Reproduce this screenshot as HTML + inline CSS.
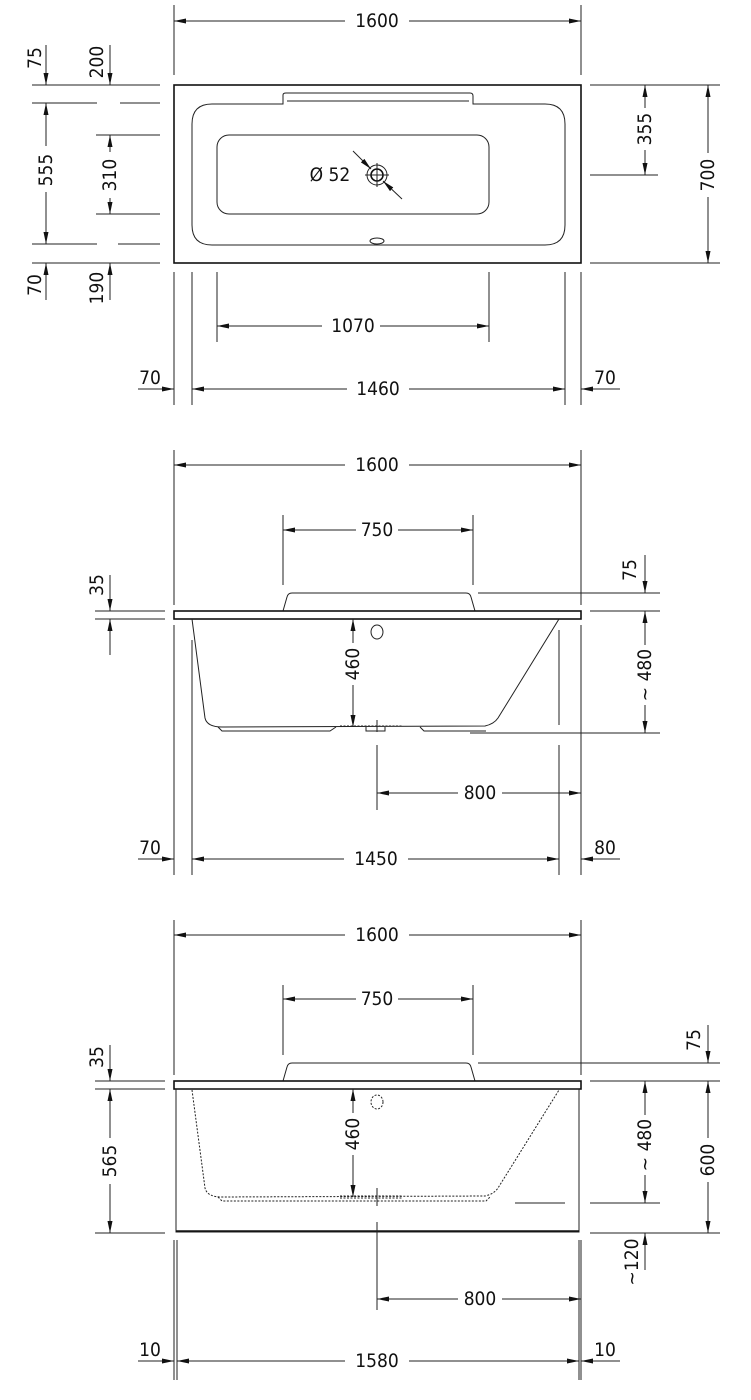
<!DOCTYPE html>
<html><head><meta charset="utf-8"><style>
html,body{margin:0;padding:0;background:#fff}
svg{display:block}
text{font-family:"DejaVu Sans Condensed","Liberation Sans Narrow","Liberation Sans",sans-serif;font-size:19px;fill:#111;text-anchor:middle;dominant-baseline:central}
.l{stroke:#222;stroke-width:1;fill:none}
.t{stroke:#111;stroke-width:1.6;fill:none}
.d{stroke:#222;stroke-width:1;fill:none;stroke-dasharray:2 1.5}
.a{stroke:#222;stroke-width:1;fill:none;marker-end:url(#ar)}
.b{stroke:#222;stroke-width:1;fill:none;marker-start:url(#al);marker-end:url(#ar)}
.w{fill:#fff}
</style></head><body>
<svg width="751" height="1400" viewBox="0 0 751 1400" xmlns="http://www.w3.org/2000/svg">
<defs>
<marker id="ar" markerWidth="12" markerHeight="6" refX="12" refY="3" orient="auto" markerUnits="userSpaceOnUse"><path d="M0,0.5 L12,3 L0,5.5z" fill="#111"/></marker>
<marker id="al" markerWidth="12" markerHeight="6" refX="0" refY="3" orient="auto" markerUnits="userSpaceOnUse"><path d="M12,0.5 L0,3 L12,5.5z" fill="#111"/></marker>
</defs>

<!-- ===== VIEW 1 ===== -->
<path class="l" d="M174,5V75 M581,5V75"/>
<line class="b" x1="174" y1="21" x2="581" y2="21"/><rect class="w" x="345" y="10" width="64" height="22"/><text x="377" y="21">1600</text>
<rect class="t" x="174" y="85" width="407" height="178"/>
<path class="l" d="M212,104 H283 V95 Q283,93 286,93 H470 Q473,93 473,96 V104 H545 Q565,104 565,124 V225 Q565,245 545,245 H212 Q192,245 192,225 V124 Q192,104 212,104Z"/>
<path class="l" d="M287,101 H469"/>
<rect class="l" x="217" y="135" width="272" height="79" rx="12"/>
<circle class="l" cx="377" cy="175" r="10"/><circle class="t" cx="377" cy="175" r="6"/>
<path class="l" d="M365,175H389 M377,163V187"/>
<line class="a" x1="353" y1="151" x2="371" y2="169"/><line class="a" x1="402" y1="199" x2="383" y2="181"/>
<text x="330" y="175">Ø 52</text>
<ellipse class="l" cx="377" cy="241" rx="7" ry="3"/>
<!-- left -->
<path class="l" d="M32,85H160 M32,103H97 M120,103H160 M96,135H160 M96,214H160 M32,244H97 M118,244H160 M32,263H160"/>
<line class="a" x1="46" y1="45" x2="46" y2="85"/><line class="a" x1="110" y1="45" x2="110" y2="85"/>
<line class="b" x1="46" y1="103" x2="46" y2="244"/><rect class="w" x="36" y="146" width="20" height="46"/>
<line class="b" x1="110" y1="135" x2="110" y2="214"/><rect class="w" x="100" y="152" width="20" height="46"/>
<line class="a" x1="46" y1="300" x2="46" y2="263"/><line class="a" x1="110" y1="300" x2="110" y2="263"/>
<text transform="translate(35,58) rotate(-90)">75</text>
<text transform="translate(97,62) rotate(-90)">200</text>
<text transform="translate(46,170) rotate(-90)">555</text>
<text transform="translate(110,175) rotate(-90)">310</text>
<text transform="translate(35,285) rotate(-90)">70</text>
<text transform="translate(97,288) rotate(-90)">190</text>
<!-- right -->
<path class="l" d="M590,85H720 M590,175H658 M590,263H720"/>
<line class="b" x1="645" y1="85" x2="645" y2="175"/><rect class="w" x="635" y="108" width="20" height="42"/>
<text transform="translate(645,129) rotate(-90)">355</text>
<line class="b" x1="708" y1="85" x2="708" y2="263"/><rect class="w" x="698" y="153" width="20" height="44"/>
<text transform="translate(708,175) rotate(-90)">700</text>
<!-- bottom -->
<path class="l" d="M174,272V405 M192,272V405 M565,272V405 M581,272V405 M217,272V342 M489,272V342"/>
<line class="b" x1="217" y1="326" x2="489" y2="326"/><rect class="w" x="322" y="315" width="58" height="22"/><text x="353" y="326">1070</text>
<line class="b" x1="192" y1="389" x2="565" y2="389"/><rect class="w" x="347" y="378" width="62" height="22"/><text x="378" y="389">1460</text>
<line class="a" x1="138" y1="389" x2="174" y2="389"/><text x="150" y="378">70</text>
<line class="a" x1="620" y1="389" x2="581" y2="389"/><text x="605" y="378">70</text>

<!-- ===== VIEW 2 ===== -->
<path class="l" d="M174,450V605 M581,450V605 M283,515V585 M473,515V585"/>
<line class="b" x1="174" y1="465" x2="581" y2="465"/><rect class="w" x="345" y="454" width="64" height="22"/><text x="377" y="465">1600</text>
<line class="b" x1="283" y1="530" x2="473" y2="530"/><rect class="w" x="356" y="519" width="42" height="22"/><text x="377" y="530">750</text>
<path class="l" d="M283,611 L287,597 Q288,593 292,593 H466 Q470,593 471,597 L475,611"/>
<rect class="t" x="174" y="611" width="407" height="8"/>
<path class="l" d="M192,619 L205,718 Q207,727 222,727 L485,726 Q494,724 498,718 L559,619"/>
<path class="l" d="M218,727 L222,731 H330 L336,727 M366,727 V731 H385 V727 M420,727 L424,731 H486"/>
<path class="d" d="M340,726H402"/>
<ellipse class="l" cx="377" cy="632" rx="6" ry="7"/>
<line class="b" x1="353" y1="619" x2="353" y2="727"/><rect class="w" x="343" y="643" width="20" height="42"/>
<text transform="translate(353,664) rotate(-90)">460</text>
<path class="l" d="M95,611H165 M95,619H165 M590,611H660 M478,593H660 M470,733H660"/>
<line class="a" x1="110" y1="575" x2="110" y2="611"/><line class="a" x1="110" y1="655" x2="110" y2="619"/>
<text transform="translate(97,585) rotate(-90)">35</text>
<line class="a" x1="645" y1="555" x2="645" y2="593"/><text transform="translate(630,570) rotate(-90)">75</text>
<line class="b" x1="645" y1="611" x2="645" y2="733"/><rect class="w" x="635" y="645" width="20" height="60"/>
<text transform="translate(645,675) rotate(-90)">~ 480</text>
<path class="l" d="M174,625V875 M581,625V875 M192,640V875 M559,630V725 M559,745V875 M377,720V732 M377,745V810"/>
<line class="b" x1="377" y1="793" x2="581" y2="793"/><rect class="w" x="458" y="782" width="44" height="22"/><text x="480" y="793">800</text>
<line class="b" x1="192" y1="859" x2="559" y2="859"/><rect class="w" x="344" y="848" width="64" height="22"/><text x="376" y="859">1450</text>
<line class="a" x1="138" y1="859" x2="174" y2="859"/><text x="150" y="848">70</text>
<line class="a" x1="620" y1="859" x2="581" y2="859"/><text x="605" y="848">80</text>

<!-- ===== VIEW 3 ===== -->
<path class="l" d="M174,920V1075 M581,920V1075 M283,985V1055 M473,985V1055"/>
<line class="b" x1="174" y1="935" x2="581" y2="935"/><rect class="w" x="345" y="924" width="64" height="22"/><text x="377" y="935">1600</text>
<line class="b" x1="283" y1="999" x2="473" y2="999"/><rect class="w" x="356" y="988" width="42" height="22"/><text x="377" y="999">750</text>
<path class="l" d="M283,1081 L287,1067 Q288,1063 292,1063 H466 Q470,1063 471,1067 L475,1081"/>
<rect class="t" x="174" y="1081" width="407" height="8"/>
<rect class="l" x="176" y="1089" width="403" height="143"/>
<path class="t" d="M176,1231H579"/>
<path class="d" d="M192,1090 L205,1188 Q207,1197 222,1197 L485,1196 Q494,1194 498,1188 L559,1090"/>
<path class="d" d="M218,1197 L222,1201 H486 L490,1197"/>
<path class="d" d="M340,1196H402 M340,1198H402"/>
<ellipse class="d" cx="377" cy="1102" rx="6" ry="7"/>
<line class="b" x1="353" y1="1089" x2="353" y2="1197"/><rect class="w" x="343" y="1113" width="20" height="42"/>
<text transform="translate(353,1134) rotate(-90)">460</text>
<path class="l" d="M377,1188V1206 M377,1222V1310"/>
<path class="l" d="M95,1081H165 M95,1089H165 M95,1233H165 M590,1081H720 M478,1063H720 M515,1203H565 M590,1203H660 M590,1233H720"/>
<line class="a" x1="110" y1="1045" x2="110" y2="1081"/><text transform="translate(97,1057) rotate(-90)">35</text>
<line class="b" x1="110" y1="1089" x2="110" y2="1233"/><rect class="w" x="100" y="1138" width="20" height="46"/>
<text transform="translate(110,1161) rotate(-90)">565</text>
<line class="a" x1="708" y1="1025" x2="708" y2="1063"/><text transform="translate(694,1040) rotate(-90)">75</text>
<line class="b" x1="645" y1="1081" x2="645" y2="1203"/><rect class="w" x="635" y="1115" width="20" height="60"/>
<text transform="translate(645,1145) rotate(-90)">~ 480</text>
<line class="b" x1="708" y1="1081" x2="708" y2="1233"/><rect class="w" x="698" y="1138" width="20" height="44"/>
<text transform="translate(708,1160) rotate(-90)">600</text>
<line class="a" x1="645" y1="1270" x2="645" y2="1233"/><text transform="translate(632,1262) rotate(-90)">~120</text>
<path class="l" d="M174,1240V1380 M177,1240V1380 M579,1240V1380 M581,1240V1380"/>
<line class="b" x1="377" y1="1299" x2="581" y2="1299"/><rect class="w" x="458" y="1288" width="44" height="22"/><text x="480" y="1299">800</text>
<line class="b" x1="177" y1="1361" x2="579" y2="1361"/><rect class="w" x="345" y="1350" width="64" height="22"/><text x="377" y="1361">1580</text>
<line class="a" x1="138" y1="1361" x2="174" y2="1361"/><text x="150" y="1350">10</text>
<line class="a" x1="620" y1="1361" x2="581" y2="1361"/><text x="605" y="1350">10</text>
</svg>
</body></html>
